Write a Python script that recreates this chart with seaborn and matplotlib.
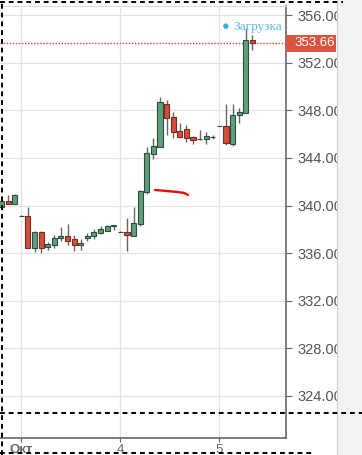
import matplotlib
matplotlib.use("Agg")
import matplotlib.pyplot as plt
import matplotlib.transforms as mtransforms
from matplotlib.patches import Rectangle
from matplotlib.lines import Line2D
import seaborn as sns

# hourly candles, 15 per session (3, 4, 5 Oct)
opens = [339.90, 340.40, 340.13, 339.15, 339.15, 336.43, 337.77, 336.55, 336.70, 337.27,
         337.40, 337.20, 336.70, 337.30, 337.40, 337.70, 337.90, 338.30, 337.80, 337.78,
         337.45, 338.45, 341.15, 344.30, 344.95, 348.55, 347.45, 346.25, 346.45, 345.80,
         345.60, 345.60, 345.75, 346.70, 346.70, 345.20, 347.60, 347.80, 353.90]
highs = [340.55, 340.85, 340.95, 339.18, 339.88, 337.90, 337.90, 336.90, 337.50, 338.20,
         338.45, 337.50, 337.20, 337.70, 338.05, 338.25, 338.40, 338.38, 337.82, 338.95,
         339.85, 341.30, 344.95, 345.65, 349.15, 348.90, 347.85, 346.95, 346.80, 345.85,
         346.35, 346.20, 345.90, 346.72, 348.50, 348.55, 348.20, 354.95, 354.35]
lows = [339.60, 340.10, 340.10, 339.12, 336.40, 336.10, 336.00, 336.25, 336.40, 337.00,
        336.70, 336.20, 336.30, 337.00, 337.15, 337.60, 337.85, 337.95, 337.78, 336.20,
        337.40, 338.30, 341.00, 343.90, 344.90, 345.95, 345.70, 345.70, 345.35, 345.15,
        345.55, 345.15, 345.60, 346.68, 345.10, 345.00, 346.95, 347.75, 353.10]
closes = [340.40, 340.13, 340.90, 339.15, 336.43, 337.77, 336.43, 336.80, 337.25, 337.45,
          337.00, 336.65, 336.85, 337.40, 337.75, 338.00, 338.30, 338.35, 337.80, 337.50,
          338.55, 341.25, 344.40, 345.00, 348.70, 347.35, 346.20, 345.75, 345.70, 345.50,
          345.62, 345.85, 345.80, 346.70, 345.25, 347.60, 347.85, 353.90, 353.66]

day_pos = [3, 18, 33]
day_labels = ["Окт", "4", "5"]
price_ticks = [324, 328, 332, 336, 340, 344, 348, 352, 356]
last_price = 353.66

# hand-drawn red mark on the screenshot
mark_x = [23.26, 25.08, 26.59, 27.65, 28.26]
mark_y = [341.31, 341.22, 341.14, 341.06, 340.89]

sns.set_theme(style="whitegrid")
plt.rcParams['font.family'] = ['Liberation Sans', 'DejaVu Sans']

fig = plt.figure(figsize=(3.62, 4.55), dpi=100)
ax = fig.add_axes([0, 17 / 455, 286 / 362, 432 / 455])
ax.set_facecolor("white")

green, green_edge = "#5f9f7c", "#2e4d3b"
red, red_edge = "#d14f3c", "#7a2b20"

idx = list(range(len(opens)))
ax.vlines(idx, lows, highs, color="#666666", lw=1, zorder=2)
for i in idx:
    o, c = opens[i], closes[i]
    up = c >= o
    ax.bar(i, c - o, bottom=o, width=0.78,
           color=green if up else red,
           edgecolor=green_edge if up else red_edge,
           linewidth=0.8, zorder=3)

sns.lineplot(x=mark_x, y=mark_y, ax=ax, color="#e01010", lw=1.7, zorder=4, sort=False)

ax.axhline(last_price, color="#d9432f", lw=1.0, ls=(0, (1, 1.2)), zorder=1)

ax.set_xlim(-0.23, 43.1)
ax.set_ylim(320.45, 356.78)
ax.set_xticks(day_pos)
ax.set_xticklabels(day_labels)
ax.set_yticks(price_ticks)
ax.set_yticklabels([f"{v:.2f}" for v in price_ticks])
ax.yaxis.tick_right()
ax.grid(True, color="#e3e3e3", lw=0.9)
ax.tick_params(axis="y", right=True, length=4, width=0.8, color="#666666",
               labelsize=10.5, labelcolor="#555555", pad=4)
ax.tick_params(axis="x", bottom=True, length=3, width=0.8, color="#666666",
               labelsize=9.5, labelcolor="#666666", pad=1.5)
ax.get_xticklabels()[0].set_fontweight("bold")

for side in ["right", "bottom"]:
    ax.spines[side].set_color("#666666")
    ax.spines[side].set_linewidth(1.2)
ax.spines["top"].set_color("#dddddd")
ax.spines["top"].set_linewidth(0.8)
ax.spines["left"].set_visible(False)

# current price tag
trans = mtransforms.blended_transform_factory(ax.transAxes, ax.transData)
ax.add_patch(Rectangle((1.0, last_price - 0.72), 0.175, 1.44, transform=trans,
                       facecolor="#dc5440", edgecolor="none", clip_on=False, zorder=5))
ax.text(1.028, last_price, f"{last_price:.2f}", transform=trans, color="white",
        fontsize=9.5, va="center", ha="left", clip_on=False, zorder=6)

# loading indicator
fig.text(226 / 362, 1 - 27 / 455, "●", color="#3aaee0", fontsize=9, ha="center", va="center")
fig.text(233 / 362, 1 - 27 / 455, "Загрузка", color="#5db9df", fontsize=9.5,
         family=["Liberation Serif", "DejaVu Serif"], ha="left", va="center")

# grey side panel
fig.add_artist(Rectangle((337 / 362, 0), 25 / 362, 1, transform=fig.transFigure,
                         facecolor="#f2f2f2", edgecolor="none", zorder=10))
fig.add_artist(Line2D([337 / 362, 337 / 362], [0, 1], transform=fig.transFigure,
                      color="#cfcfcf", lw=0.8, zorder=11))

# dashed selection frames
dash = dict(color="black", lw=1.4, ls=(0, (2.5, 2)), transform=fig.transFigure, zorder=12)
fig.add_artist(Line2D([0, 343 / 362], [1 - 1.5 / 455] * 2, **dash))
fig.add_artist(Line2D([1.5 / 362] * 2, [0, 1], **dash))
fig.add_artist(Line2D([0, 1], [1 - 413 / 455] * 2, **dash))
fig.add_artist(Line2D([0, 313 / 362], [1 - 453 / 455] * 2, **dash))

fig.savefig("out.png", dpi=100)
